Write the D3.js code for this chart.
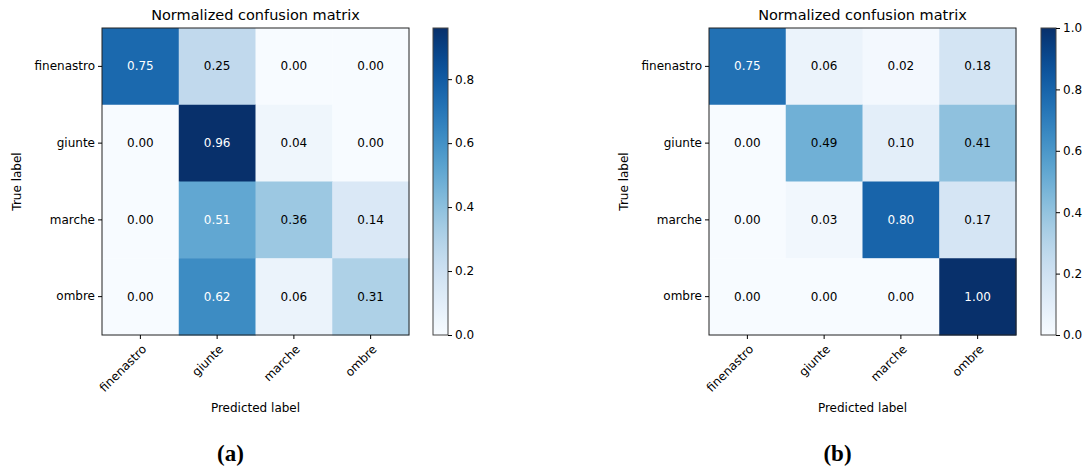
<!DOCTYPE html>
<html>
<head>
<meta charset="utf-8">
<script src="https://cdn.jsdelivr.net/npm/d3@7"></script>
<style>
  body { margin: 0; background: #fff; }
  svg text { font-family: "DejaVu Sans", sans-serif; }
</style>
</head>
<body>
<svg id="chart" width="1091" height="470"></svg>
<script>
// class names shared by both matrices
const classes = ["finenastro", "giunte", "marche", "ombre"];

// (a) normalized values, rows = true label
const matrixA = [
  [0.75, 0.25, 0.00, 0.00],
  [0.00, 0.96, 0.04, 0.00],
  [0.00, 0.51, 0.36, 0.14],
  [0.00, 0.62, 0.06, 0.31]
];

// (b)
const matrixB = [
  [0.75, 0.06, 0.02, 0.18],
  [0.00, 0.49, 0.10, 0.41],
  [0.00, 0.03, 0.80, 0.17],
  [0.00, 0.00, 0.00, 1.00]
];

const ticksA = [0, 0.2, 0.4, 0.6, 0.8];
const ticksB = [0, 0.2, 0.4, 0.6, 0.8, 1.0];

const svg = d3.select("#chart");

function drawPanel(matrix, cbTicks, opts) {
  const { left, top, size, cbX, cbW, letter } = opts;
  const vmax = d3.max(matrix.flat());
  const color = d3.scaleSequential(d3.interpolateBlues).domain([0, vmax]);
  const thresh = vmax / 2;

  const g = svg.append("g");

  const x = d3.scaleBand().domain(classes).range([left, left + size]);
  const y = d3.scaleBand().domain(classes).range([top, top + size]);

  // cells
  matrix.forEach((row, i) => {
    row.forEach((v, j) => {
      g.append("rect")
        .attr("x", x(classes[j]))
        .attr("y", y(classes[i]))
        .attr("width", x.bandwidth() + 0.5)
        .attr("height", y.bandwidth() + 0.5)
        .attr("fill", color(v));
      g.append("text")
        .attr("x", x(classes[j]) + x.bandwidth() / 2)
        .attr("y", y(classes[i]) + y.bandwidth() / 2)
        .attr("text-anchor", "middle")
        .attr("dominant-baseline", "central")
        .attr("font-size", 12)
        .attr("fill", v > thresh ? "#fff" : "#000")
        .text(v.toFixed(2));
    });
  });

  // frame
  g.append("rect")
    .attr("x", left).attr("y", top)
    .attr("width", size).attr("height", size)
    .attr("fill", "none").attr("stroke", "#222").attr("stroke-width", 1);

  // y axis
  const yAxis = d3.axisLeft(y).tickSize(4).tickPadding(3);
  const yg = g.append("g").attr("transform", `translate(${left},0)`).call(yAxis);
  yg.select(".domain").remove();
  yg.selectAll("text").attr("font-size", 12).attr("fill", "#000")
    .style("font-family", "DejaVu Sans");

  // x axis with rotated labels
  const xAxis = d3.axisBottom(x).tickSize(4).tickPadding(3);
  const xg = g.append("g").attr("transform", `translate(0,${top + size})`).call(xAxis);
  xg.select(".domain").remove();
  xg.selectAll("text")
    .attr("font-size", 12).attr("fill", "#000")
    .style("font-family", "DejaVu Sans")
    .attr("text-anchor", "end")
    .attr("dy", "0.35em")
    .attr("transform", "translate(-1,7) rotate(-45)");

  // titles
  g.append("text")
    .attr("x", left + size / 2).attr("y", top - 8)
    .attr("text-anchor", "middle").attr("font-size", 14.5)
    .text("Normalized confusion matrix");

  g.append("text")
    .attr("transform", `translate(${left - 81},${top + size / 2}) rotate(-90)`)
    .attr("text-anchor", "middle").attr("font-size", 12)
    .text("True label");

  g.append("text")
    .attr("x", left + size / 2).attr("y", top + size + 77)
    .attr("text-anchor", "middle").attr("font-size", 12)
    .text("Predicted label");

  g.append("text")
    .attr("x", left + size / 2 - 25).attr("y", top + size + 126)
    .attr("text-anchor", "middle").attr("font-size", 23)
    .attr("font-weight", "bold")
    .style("font-family", "'Liberation Serif', 'DejaVu Serif', serif")
    .text(`(${letter})`);

  // colorbar
  const gradId = "grad" + letter;
  const grad = svg.append("defs").append("linearGradient")
    .attr("id", gradId).attr("x1", 0).attr("y1", 1).attr("x2", 0).attr("y2", 0);
  d3.range(0, 1.0001, 0.05).forEach(t => {
    grad.append("stop").attr("offset", t).attr("stop-color", color(t * vmax));
  });

  const cbScale = d3.scaleLinear().domain([0, vmax]).range([top + size, top]);
  g.append("rect")
    .attr("x", cbX).attr("y", top)
    .attr("width", cbW).attr("height", size)
    .attr("fill", `url(#${gradId})`)
    .attr("stroke", "#444").attr("stroke-width", 1);

  const cbAxis = d3.axisRight(cbScale).tickValues(cbTicks)
    .tickFormat(d3.format(".1f")).tickSize(4).tickPadding(3);
  const cg = g.append("g").attr("transform", `translate(${cbX + cbW},0)`).call(cbAxis);
  cg.select(".domain").remove();
  cg.selectAll("text").attr("font-size", 12).attr("fill", "#000")
    .style("font-family", "DejaVu Sans");
}

drawPanel(matrixA, ticksA, { left: 102, top: 28, size: 307, cbX: 433, cbW: 15, letter: "a" });
drawPanel(matrixB, ticksB, { left: 709, top: 28, size: 307, cbX: 1041, cbW: 15, letter: "b" });
</script>
</body>
</html>
